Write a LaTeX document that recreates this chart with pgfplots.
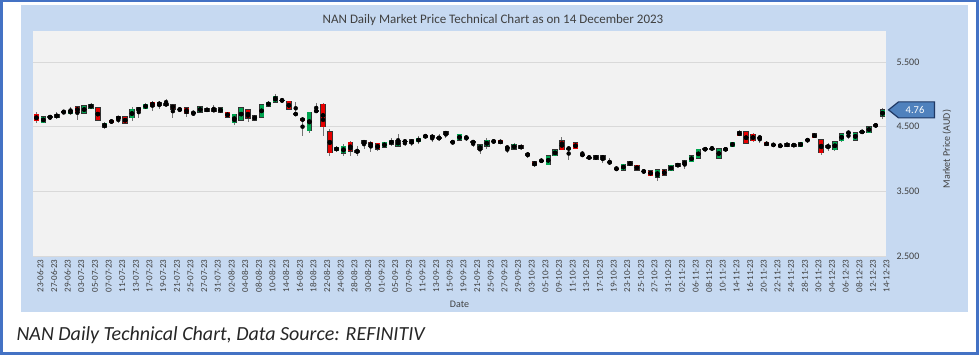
\documentclass[border=0pt]{standalone}
\usepackage{pgfplots}
\pgfplotsset{compat=1.18}
\usepackage{pgfplotstable}
\usepackage{fontspec}
\setmainfont{Carlito}
\definecolor{outerblue}{HTML}{4472C4}
\definecolor{panel}{HTML}{C6D9F1}
\definecolor{plotbg}{HTML}{F2F2F2}
\definecolor{gridc}{HTML}{D9D9D9}
\definecolor{upc}{HTML}{00A550}
\definecolor{downc}{HTML}{E60000}
\definecolor{callout}{HTML}{4F81BD}
\definecolor{calloutb}{HTML}{1F3864}
\definecolor{txt}{HTML}{404040}

\pgfplotstableread{
x o h l c
0 4.69 4.72 4.55 4.59
1 4.56 4.66 4.55 4.65
2 4.64 4.68 4.60 4.66
3 4.64 4.72 4.62 4.69
4 4.725 4.75 4.69 4.735
5 4.70 4.81 4.69 4.75
6 4.81 4.82 4.61 4.72
7 4.71 4.83 4.70 4.82
8 4.78 4.87 4.77 4.85
9 4.79 4.80 4.59 4.60
10 4.49 4.58 4.46 4.55
11 4.60 4.61 4.55 4.56
12 4.62 4.65 4.56 4.65
13 4.65 4.66 4.54 4.55
14 4.64 4.81 4.59 4.77
15 4.79 4.81 4.64 4.75
16 4.78 4.86 4.77 4.85
17 4.88 4.90 4.75 4.82
18 4.88 4.90 4.77 4.83
19 4.86 4.93 4.83 4.83
20 4.84 4.84 4.64 4.77
21 4.765 4.79 4.73 4.77
22 4.79 4.81 4.65 4.71
23 4.71 4.74 4.66 4.72
24 4.72 4.82 4.71 4.81
25 4.78 4.79 4.73 4.74
26 4.78 4.83 4.72 4.73
27 4.72 4.80 4.71 4.79
28 4.72 4.73 4.64 4.65
29 4.56 4.69 4.52 4.69
30 4.60 4.80 4.59 4.79
31 4.76 4.77 4.57 4.63
32 4.60 4.68 4.59 4.67
33 4.65 4.85 4.64 4.84
34 4.82 4.90 4.81 4.88
35 4.88 5.00 4.88 4.97
36 4.90 4.94 4.88 4.91
37 4.89 4.90 4.76 4.77
38 4.69 4.88 4.69 4.70
39 4.62 4.64 4.36 4.60
40 4.44 4.73 4.41 4.72
41 4.74 4.86 4.72 4.745
42 4.85 4.86 4.35 4.50
43 4.42 4.46 4.04 4.10
44 4.13 4.20 4.11 4.18
45 4.09 4.23 4.04 4.20
46 4.26 4.28 4.05 4.12
47 4.10 4.20 4.05 4.13
48 4.24 4.30 4.16 4.28
49 4.26 4.28 4.11 4.19
50 4.24 4.25 4.13 4.15
51 4.18 4.27 4.17 4.26
52 4.23 4.32 4.20 4.29
53 4.20 4.38 4.20 4.29
54 4.27 4.29 4.20 4.275
55 4.24 4.31 4.20 4.30
56 4.27 4.35 4.23 4.32
57 4.33 4.39 4.32 4.37
58 4.36 4.38 4.26 4.33
59 4.32 4.38 4.28 4.325
60 4.42 4.43 4.33 4.38
61 4.26 4.28 4.23 4.265
62 4.29 4.39 4.28 4.38
63 4.33 4.36 4.28 4.335
64 4.265 4.28 4.19 4.26
65 4.14 4.23 4.07 4.22
66 4.20 4.32 4.16 4.29
67 4.27 4.30 4.24 4.275
68 4.29 4.30 4.23 4.24
69 4.175 4.20 4.09 4.18
70 4.15 4.24 4.14 4.23
71 4.21 4.23 4.14 4.16
72 4.09 4.11 4.01 4.05
73 3.96 3.97 3.87 3.90
74 3.97 4.00 3.95 3.975
75 3.91 4.06 3.90 4.05
76 4.05 4.15 4.04 4.14
77 4.28 4.34 4.14 4.14
78 4.16 4.19 3.98 4.165
79 4.25 4.26 4.15 4.16
80 4.06 4.13 4.04 4.065
81 4.02 4.05 4.00 4.025
82 4.05 4.06 3.99 4.00
83 4.05 4.06 3.94 4.00
84 3.95 4.01 3.90 3.945
85 3.855 3.87 3.82 3.85
86 3.83 3.93 3.82 3.92
87 3.96 3.97 3.89 3.90
88 3.90 3.91 3.82 3.83
89 3.81 3.84 3.78 3.805
90 3.82 3.83 3.73 3.74
91 3.72 3.84 3.66 3.83
92 3.83 3.84 3.74 3.75
93 3.82 3.91 3.81 3.90
94 3.93 3.94 3.87 3.88
95 3.91 3.98 3.85 3.97
96 3.96 4.06 3.95 4.05
97 4.01 4.16 4.00 4.15
98 4.15 4.17 4.13 4.155
99 4.16 4.20 4.13 4.165
100 4.01 4.17 4.00 4.16
101 4.17 4.18 4.12 4.13
102 4.19 4.27 4.18 4.26
103 4.42 4.45 4.35 4.36
104 4.42 4.43 4.23 4.24
105 4.38 4.40 4.27 4.28
106 4.33 4.36 4.25 4.335
107 4.26 4.27 4.20 4.21
108 4.22 4.25 4.19 4.215
109 4.20 4.23 4.19 4.205
110 4.24 4.25 4.19 4.20
111 4.23 4.24 4.19 4.20
112 4.19 4.27 4.18 4.26
113 4.29 4.33 4.25 4.295
114 4.39 4.40 4.32 4.33
115 4.30 4.31 4.06 4.10
116 4.21 4.24 4.13 4.18
117 4.14 4.28 4.13 4.27
118 4.28 4.40 4.27 4.39
119 4.405 4.41 4.31 4.41
120 4.29 4.42 4.28 4.41
121 4.43 4.44 4.40 4.41
122 4.41 4.51 4.40 4.50
123 4.50 4.55 4.49 4.54
124 4.66 4.79 4.62 4.76
}\candles

\begin{document}
\begin{tikzpicture}[x=1pt,y=1pt]
\useasboundingbox (0,0) rectangle (979,355);
\fill[white] (0,0) rectangle (979,355);
\draw[outerblue, line width=2.5pt] (1.25,1.25) rectangle (977.5,353.75);
\fill[panel] (21,43) rectangle (968,350);
\node[font=\fontsize{13}{15}\selectfont, text=txt] at (493,334.5) {NAN Daily Market Price Technical Chart as on 14 December 2023};
\node[font=\fontsize{10}{12}\selectfont, text=txt] at (459.5,51) {Date};
\node[font=\fontsize{10}{12}\selectfont, text=txt, rotate=90] at (947,206) {Market Price (AUD)};
\node[anchor=west, font=\itshape\fontsize{20}{22}\selectfont, text=black!85] at (13,20) {NAN Daily Technical Chart, Data Source: REFINITIV};
\begin{axis}[
  at={(33pt,99pt)}, anchor=south west, scale only axis,
  width=853pt, height=225pt,
  xmin=-0.5, xmax=124.5, ymin=2.5, ymax=5.98,
  axis background/.style={fill=plotbg},
  axis line style={draw=none},
  ytick={2.5,3.5,4.5,5.5},
  ymajorgrids, grid style={gridc, line width=0.8pt},
  yticklabel pos=right,
  major tick length=0pt,
  y tick label style={/pgf/number format/fixed, /pgf/number format/fixed zerofill, /pgf/number format/precision=3, /pgf/number format/assume math mode=true},
  yticklabel style={anchor=west, xshift=7pt, font=\fontsize{10}{12}\selectfont, text=txt},
  xtick={0,2,...,124},
  xticklabels={23-06-23,27-06-23,29-06-23,03-07-23,05-07-23,07-07-23,11-07-23,13-07-23,17-07-23,19-07-23,21-07-23,25-07-23,27-07-23,31-07-23,02-08-23,04-08-23,08-08-23,10-08-23,14-08-23,16-08-23,18-08-23,22-08-23,24-08-23,28-08-23,30-08-23,01-09-23,05-09-23,07-09-23,11-09-23,13-09-23,15-09-23,19-09-23,21-09-23,25-09-23,27-09-23,29-09-23,03-10-23,05-10-23,09-10-23,11-10-23,13-10-23,17-10-23,19-10-23,23-10-23,25-10-23,27-10-23,31-10-23,02-11-23,06-11-23,08-11-23,10-11-23,14-11-23,16-11-23,20-11-23,22-11-23,24-11-23,28-11-23,30-11-23,04-12-23,06-12-23,08-12-23,12-12-23,14-12-23},
  xticklabel style={rotate=90, anchor=east, font=\fontsize{9}{10}\selectfont, text=txt, yshift=-4pt},
  clip=false,
]
% wicks
\addplot[only marks, mark=none, error bars/.cd, y dir=both, y explicit, error mark=none,
  error bar style={draw=black!55, line width=0.8pt}]
  table[x=x, y expr=(\thisrow{h}+\thisrow{l})/2, y error expr=(\thisrow{h}-\thisrow{l})/2] {\candles};
% body outlines
\addplot[only marks, mark=none, error bars/.cd, y dir=both, y explicit, error mark=none,
  error bar style={draw=black!80, line width=5.4pt}]
  table[x=x, y expr=(\thisrow{o}+\thisrow{c})/2, y error expr=abs(\thisrow{c}-\thisrow{o})/2+0.008] {\candles};
% up bodies
\addplot[only marks, mark=none, error bars/.cd, y dir=both, y explicit, error mark=none,
  error bar style={draw=upc, line width=4.2pt}]
  table[x=x, y expr={\thisrow{c}>\thisrow{o} ? (\thisrow{o}+\thisrow{c})/2 : nan}, y error expr=abs(\thisrow{c}-\thisrow{o})/2] {\candles};
% down bodies
\addplot[only marks, mark=none, error bars/.cd, y dir=both, y explicit, error mark=none,
  error bar style={draw=downc, line width=4.2pt}]
  table[x=x, y expr={\thisrow{c}<\thisrow{o} ? (\thisrow{o}+\thisrow{c})/2 : nan}, y error expr=abs(\thisrow{c}-\thisrow{o})/2] {\candles};
\coordinate (lastp) at (axis cs:124.5,4.76);
\end{axis}
% last price callout
\draw[fill=callout, draw=calloutb, line width=1.2pt] ([xshift=2.5pt]lastp) -- ++(10,8) -- ++(36,0) -- ++(0,-16) -- ++(-36,0) -- cycle;
\node[text=white, font=\fontsize{10.5}{12}\selectfont] at ([xshift=29pt]lastp) {4.76};
\end{tikzpicture}
\end{document}
